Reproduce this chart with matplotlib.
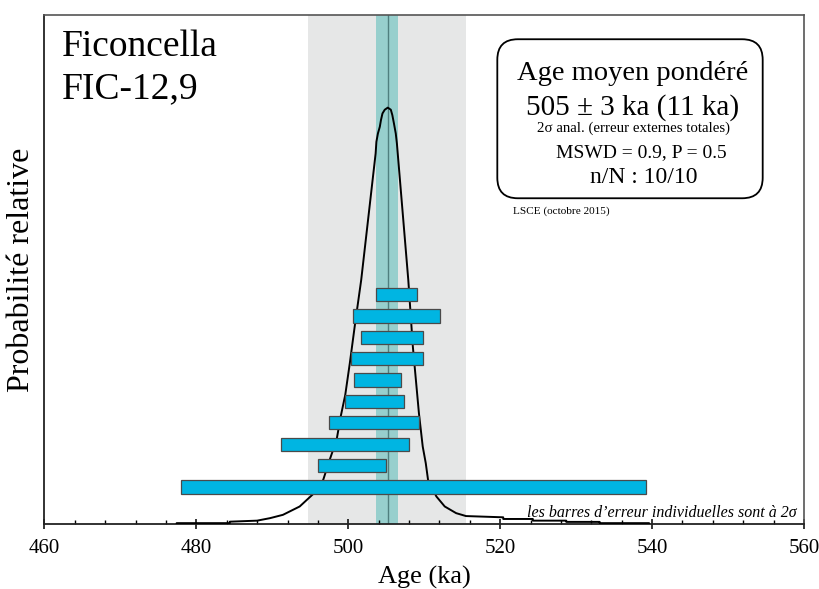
import matplotlib
matplotlib.use('Agg')
import matplotlib.pyplot as plt
from matplotlib.patches import FancyBboxPatch
from matplotlib.ticker import MultipleLocator

plt.rcParams['font.family'] = ['Liberation Serif', 'DejaVu Serif']

# individual ages (2 sigma error bars), listed top row first
bar_low = [503.7, 500.6, 501.7, 500.4, 500.7, 499.6, 497.4, 491.2, 496.0, 478.0]
bar_high = [509.1, 512.1, 509.8, 509.8, 506.9, 507.4, 509.3, 508.0, 505.0, 539.2]
bar_row = list(range(len(bar_low), 0, -1))

# relative probability curve
curve_age = [477.4, 477.4, 484.4, 484.4, 488.0, 489.7, 491.4, 493.6, 495.5, 496.7,
             497.4, 498.0, 498.5, 499.0, 499.6, 500.2, 500.9, 501.7, 503.6, 503.7,
             503.9, 504.15, 504.3, 504.5, 504.8, 505.2, 505.6, 505.8, 506.0, 506.25,
             506.4, 507.9, 508.5, 509.3, 509.8, 510.2, 510.5, 511.6, 512.7, 514.2,
             515.5, 520.4, 520.4, 524.3, 524.3, 528.7, 528.7, 533.1, 533.1, 539.6, 539.6]
curve_prob = [0.0, 0.002, 0.002, 0.0055, 0.008, 0.014, 0.022, 0.042, 0.074, 0.106,
              0.146, 0.178, 0.206, 0.258, 0.310, 0.386, 0.482, 0.586, 0.890, 0.918,
              0.938, 0.954, 0.970, 0.986, 0.995, 1.0, 0.995, 0.982, 0.963, 0.938,
              0.914, 0.586, 0.426, 0.266, 0.186, 0.146, 0.106, 0.066, 0.042, 0.026,
              0.019, 0.016, 0.012, 0.012, 0.008, 0.008, 0.005, 0.005, 0.002, 0.002, 0.0]

mean_age = 505.2
mean_band = (503.7, 506.6)
ext_band = (494.7, 515.5)

fig = plt.figure(figsize=(8.19, 5.89), dpi=100)
ax = fig.add_axes([0.0543, 0.1104, 0.9274, 0.8642])

ax.axvspan(*ext_band, color='#e6e7e7', lw=0, zorder=0)
ax.axvspan(*mean_band, color='#97cfcd', lw=0, zorder=1)
ax.axvline(mean_age, color='#4f7f7f', lw=1.0, zorder=2)
ax.plot(curve_age, curve_prob, color='black', lw=1.4, zorder=3)

ax.set_xlim(460, 560)
ax.set_ylim(0, 1.2226)
ax.set_yticks([])
ax.xaxis.set_major_locator(MultipleLocator(20))
ax.xaxis.set_minor_locator(MultipleLocator(4))
ax.tick_params(axis='x', which='major', direction='inout', length=7, width=1.1,
               labelsize=15, pad=7)
ax.tick_params(axis='x', which='minor', direction='in', length=3, width=1.0)
for side in ['top', 'right']:
    ax.spines[side].set_color('#555555')
    ax.spines[side].set_linewidth(1.2)
for side in ['left', 'bottom']:
    ax.spines[side].set_color('#222222')
    ax.spines[side].set_linewidth(1.3)

ax.set_xlabel('Age (ka)', fontsize=19, labelpad=6)
ax.set_ylabel('Probabilité relative', fontsize=23, labelpad=6)

# bars on a twin axis indexed by row
ax2 = ax.twinx()
ax2.set_ylim(-0.731, 23.08)
ax2.barh(bar_row, [h - l for l, h in zip(bar_low, bar_high)], left=bar_low,
         height=0.62, color='#00b5e2', edgecolor='#4a4a4a', linewidth=0.9, zorder=4)
ax2.set_yticks([])
for s in ax2.spines.values():
    s.set_visible(False)

t = ax.transAxes
ax.text(0.0226, 0.919, 'Ficoncella', transform=t, fontsize=27, va='baseline')
ax.text(0.0226, 0.836, 'FIC-12,9', transform=t, fontsize=27, va='baseline')

box = FancyBboxPatch((0.5962, 0.6399), 0.3494, 0.3124, transform=t,
                     boxstyle='round,pad=0,rounding_size=0.027', mutation_aspect=1.492,
                     facecolor='white', edgecolor='black', lw=1.3, zorder=5)
ax2.add_patch(box)
ax2.text(0.7742, 0.8723, 'Age moyen pondéré', transform=t, fontsize=20.5,
         ha='center', va='baseline', zorder=6)
ax2.text(0.774, 0.8035, '505 ± 3 ka (11 ka)', transform=t, fontsize=21,
         ha='center', va='baseline', zorder=6)
ax2.text(0.7754, 0.7707, '2σ anal. (erreur externes totales)', transform=t,
         fontsize=10.7, ha='center', va='baseline', zorder=6)
ax2.text(0.7856, 0.7216, 'MSWD = 0.9, P = 0.5', transform=t, fontsize=14,
         ha='center', va='baseline', zorder=6)
ax2.text(0.7884, 0.6705, 'n/N : 10/10', transform=t, fontsize=17,
         ha='center', va='baseline', zorder=6)
ax2.text(0.6168, 0.609, 'LSCE (octobre 2015)', transform=t, fontsize=8.1,
         ha='left', va='baseline', zorder=6)
ax2.text(0.9904, 0.0143, 'les barres d’erreur individuelles sont à 2σ', transform=t,
         fontsize=11.5, style='italic', ha='right', va='baseline', zorder=6)

fig.savefig('out.png', dpi=100)
